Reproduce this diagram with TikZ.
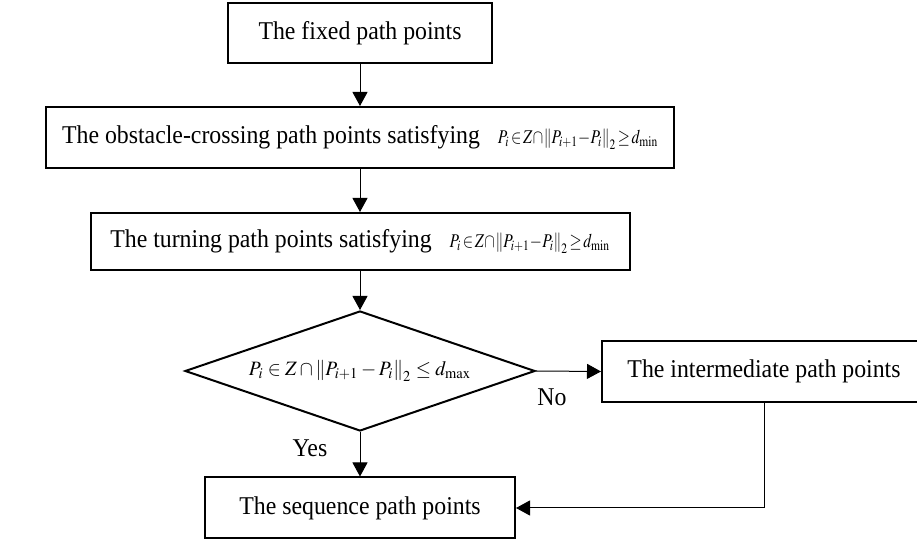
\documentclass[tikz,border=0pt]{standalone}
\usepackage{mathptmx}
\usepackage[no-math]{fontspec}
\setmainfont[FakeStretch=0.93]{Liberation Serif}
\usepackage{graphicx}
\usetikzlibrary{arrows.meta, shapes.geometric, positioning}

\newcommand{\crossrule}{\resizebox*{80pt}{10pt}{$P_i\!\in\! Z\!\cap\!\left\|P_{i+1}\!-\!P_i\right\|_2\!\ge\! d_{\min}$}}
\newcommand{\checkrule}{\resizebox*{111pt}{10.5pt}{$P_i \in Z \cap \left\|P_{i+1}-P_i\right\|_2 \le d_{\max}$}}

\tikzset{
	stepbox/.style={draw=black, line width=1pt, fill=white, inner sep=0pt, font=\fontsize{12.8}{15}\selectfont},
	testbox/.style={draw=black, line width=1pt, shape=diamond, aspect=2.9, inner sep=0pt,
		minimum width=175pt, minimum height=60pt},
	flow/.style={line width=0.5pt, -{Triangle[length=7pt,width=7.5pt]}},
	tag/.style={font=\fontsize{12.8}{15}\selectfont}
}

\begin{document}
\begin{tikzpicture}[x=0.5pt, y=-0.5pt]
	\useasboundingbox (0,0) rectangle (917,544);
	\clip (0,0) rectangle (917,544);
	% main column
	\node[stepbox, minimum width=132pt, minimum height=30pt] (fixed) at (360,33) {The fixed path points};
	\node[stepbox, minimum width=314pt, minimum height=30.5pt] (cross) at (360,137.5)
		{The obstacle-crossing path points satisfying\hspace{9pt}\crossrule};
	\node[stepbox, minimum width=269.5pt, minimum height=28.5pt] (turn) at (360,241.5)
		{The turning path points satisfying\hspace{9pt}\crossrule};
	\node[testbox] (check) at (360,371) {\checkrule};
	\node[stepbox, minimum width=162pt, minimum height=30.5pt] (inter) at (764,371.5) {The intermediate path points};
	\node[stepbox, minimum width=155pt, minimum height=30.5pt] (seq) at (360,508) {The sequence path points};
	% connectors
	\draw[flow] (fixed) -- (cross);
	\draw[flow] (cross) -- (turn);
	\draw[flow] (turn) -- (check);
	\draw[flow] (check) -- (seq);
	\draw[flow] (check.east) -- (inter.west);
	\draw[flow] (inter.south) |- (seq.east);
	\node[tag] (no) at (552,397) {No};
	\node[tag] (yes) at (310,448) {Yes};
\end{tikzpicture}
\end{document}
